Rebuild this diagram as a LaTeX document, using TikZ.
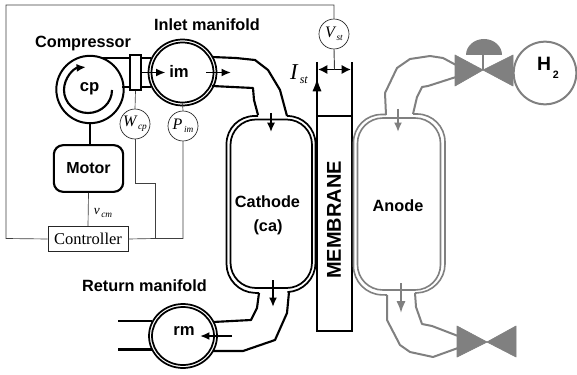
\documentclass[tikz,border=0pt]{standalone}
\usepackage{fontspec}
\setmainfont{Liberation Sans}
\newfontfamily\tmsfont{Liberation Serif}
\usetikzlibrary{arrows.meta,shapes.geometric,calc}
\definecolor{gr}{gray}{0.5}
\tikzset{
 lab/.style={font=\bfseries\fontsize{12.2pt}{14pt}\selectfont,inner sep=0pt},
 small lab/.style={font=\bfseries\fontsize{12.5pt}{14pt}\selectfont,inner sep=0pt},
 thick1/.style={line width=1.6pt,line join=round},
 thin1/.style={line width=0.5pt,draw=black!75},
 sens/.style={circle,draw=black!85,line width=0.5pt,fill=white,minimum size=22.5pt,inner sep=0pt,font=\tmsfont\itshape\fontsize{12pt}{12pt}\selectfont},
 arr/.style={line width=1.4pt,-{Latex[length=7pt,width=6pt]}},
 pipeg/.style={line width=1.5pt,draw=gr,line join=round},
 vessel/.style={ellipse,draw,line width=1.3pt,inner sep=0pt},
 wall/.style={line width=1.3pt},
 wallg/.style={line width=1.2pt,draw=gr},
 valvepart/.style={fill=gr,draw=gr,line width=0.5pt,line join=round},
}
\newcommand{\sub}[2]{#1\raisebox{-2.5pt}{\fontsize{7pt}{7pt}\selectfont\,#2}}
\begin{document}
\begin{tikzpicture}[x=0.75pt,y=-0.75pt]
\useasboundingbox (0,0) rectangle (577,374);
\fill[white] (0,0) rectangle (577,374);
% sensor wiring nodes
\node[sens] (W) at (135,124) {\sub{W}{cp}};
\node[sens] (P) at (183,126) {\sub{P}{im}};
\node[sens] (V) at (334,34) {\sub{V}{st}};
\node[draw=black!85,line width=0.5pt,fill=white,minimum width=60pt,minimum height=19pt,inner sep=0pt,font=\tmsfont\fontsize{12.4pt}{14pt}\selectfont] (ctl) at (88,239) {Controller};
\coordinate (jn) at (155,238.5);
\draw[thin1] (ctl.west) -- (6,238.5) -- (6,5) -- (334,5) -- (V.north);
\draw[thin1] (ctl.east) -- (jn) -- (183,238.5) -- (P.south);
\draw[thin1] (W.south) -- (135,183) -- (155,183) -- (jn);
% compressor
\node[circle,draw,line width=1.5pt,minimum size=50.5pt,inner sep=0pt] (cp) at (90,89.5) {};
\node[small lab] at (89.5,89) {cp};
\draw[line width=1.6pt,-{Latex[length=7pt,width=6pt]}] (112,90) arc[start angle=0,end angle=265,x radius=24,y radius=23];
\node[draw,line width=1.5pt,fill=white,minimum width=8pt,minimum height=26pt,inner sep=0pt] (box) at (135.5,72.5) {};
\node[draw,line width=1.6pt,rounded corners=7pt,minimum width=52pt,minimum height=35pt,inner sep=0pt,font=\bfseries\fontsize{12pt}{14pt}\selectfont] (mot) at (88.5,168.5) {Motor};
\draw[line width=1.5pt] (cp.south) -- (cp.south |- mot.north);
\draw[thin1] (mot.south) -- (ctl.north);
\node[font=\tmsfont\itshape\fontsize{10pt}{12pt}\selectfont,inner sep=0pt] at (103,213) {\sub{v}{cm}};
% inlet manifold
\node[vessel,minimum width=51pt,minimum height=49.5pt] (imo) at (182.5,72.5) {};
\node[vessel,minimum width=46.5pt,minimum height=45pt] (im) at (182.5,72.5) {};
\node[small lab] at (179,71) {im};
\coordinate (a1) at (102,58); \coordinate (a2) at (122,87);
\draw[thick1] (a1) -- (130,58);
\draw[thick1] (a2) -- (130,87);
\draw[thick1] (box.east |- 0,58) -- (151,58);
\draw[thick1] (box.east |- 0,87) -- (151,87);
\draw[arr] (box.east) -- (165.5,72.5);
\draw[arr] (206,72.5) -- (231,72.5);
\draw[thin1] (box.south) -- (W.north);
\draw[thin1] (im.south) -- (P.north);
% pipes cathode
\draw[thick1] (212,57) -- (236,58) -- (255,60) -- (268,70) -- (280,90) -- (287,116);
\draw[thick1] (212,86) -- (253,88) -- (254,100) -- (258,115);
% cathode
\draw[wall,rounded corners=21pt] (258,116) -- (226.5,116) -- (226.5,292) -- (259,293);
\draw[wall,rounded corners=21pt] (287,116) -- (315.5,116) -- (315.5,291) -- (289,292);
\draw[wall,rounded corners=19pt] (230.5,119.5) rectangle (312,288);
% membrane
\draw[line width=1.7pt] (317,62) -- (317,331) -- (352,331) -- (352,62);
\draw[line width=1.2pt] (317,116) -- (352,116);
\draw[line width=1.6pt,-{Latex[length=10pt,width=7pt]}] (317,116) -- (317,78);
\draw[line width=1.4pt,{Latex[length=7pt,width=7pt]}-{Latex[length=7pt,width=7pt]}] (318,69.5) -- (351,69.5);
\coordinate (Vm) at (334.5,69.5);
\draw[thin1,line width=0.7pt] (V.south) -- (Vm);
\node[font=\tmsfont\itshape\fontsize{17pt}{18pt}\selectfont,inner sep=0pt] at (299,74) {I\raisebox{-3pt}{\fontsize{9pt}{9pt}\selectfont\,st}};
\node[lab,font=\bfseries\fontsize{15pt}{16pt}\selectfont,rotate=90] at (334,220) {MEMBRANE};
\draw[arr,line width=1.2pt] (271,113) -- (271,132);
\draw[arr] (273,280) -- (273,307);
% return manifold
\draw[thick1] (259,293) -- (257,308) -- (251,320) -- (213,322);
\draw[thick1] (289,292) -- (287,313) -- (275,340) -- (243,351) -- (213,351);
\node[vessel,minimum width=51pt,minimum height=48pt] (rmo) at (183,336) {};
\node[vessel,minimum width=46.5pt,minimum height=43.5pt] (rm) at (183,336) {};
\node[small lab] at (184,331) {rm};
\draw[thick1] (118,321) -- (152,321);
\draw[thick1] (118,349.5) -- (152,349.5);
\draw[arr] (232,336) -- (200,336);
% labels
\node[lab] at (83,44) {Compressor};
\node[lab] at (207,25) {Inlet manifold};
\node[lab] at (144.5,286) {Return manifold};
\node[lab] at (267.5,202) {Cathode};
\node[lab] at (268,227) {(ca)};
\node[lab] at (398,206) {Anode};
% anode
\draw[wallg,rounded corners=21pt] (386,114.5) -- (353.5,114.5) -- (353.5,294) -- (387,295);
\draw[wallg,rounded corners=21pt] (413,114) -- (445,114) -- (445,292) -- (415,293);
\draw[wallg,rounded corners=19pt] (357.5,118) rectangle (440.5,290);
\draw[pipeg] (386,115) -- (385,93) -- (397,68) -- (410,59) -- (430,56) -- (443,58) -- (456,65);
\draw[pipeg] (413,114) -- (417,97) -- (422,87) -- (428,86) -- (456,77);
\draw[pipeg,-{Latex[length=7pt,width=6pt]}] (398,109) -- (398,132);
\draw[pipeg,-{Latex[length=9pt,width=7pt]}] (401,283) -- (401,313);
\draw[pipeg] (387,295) -- (387,320) -- (400,345) -- (410,352) -- (433,357) -- (458,348);
\draw[pipeg] (415,293) -- (416,307) -- (422,324) -- (432,326) -- (458,336);
% valves
\fill[valvepart] (455,55) -- (483,70) -- (455,86) -- cycle;
\fill[valvepart] (513,55) -- (483,70) -- (513,86) -- cycle;
\draw[gr,line width=1pt] (483,70) -- (483,55);
\fill[gr] (466,55) arc[start angle=180,end angle=0,x radius=18,y radius=-16] -- cycle;
\fill[valvepart] (457,326) -- (487,342) -- (457,357) -- cycle;
\fill[valvepart] (516,326) -- (487,342) -- (516,357) -- cycle;
\node[ellipse,draw=gr,line width=1.5pt,minimum width=47pt,minimum height=47pt,inner sep=0pt] (h2) at (545,73) {};
\node[font=\bfseries\fontsize{14.5pt}{16pt}\selectfont,inner sep=0pt] at (548,68) {H\raisebox{-6pt}{\fontsize{8pt}{8pt}\selectfont\,2}};
\end{tikzpicture}
\end{document}
